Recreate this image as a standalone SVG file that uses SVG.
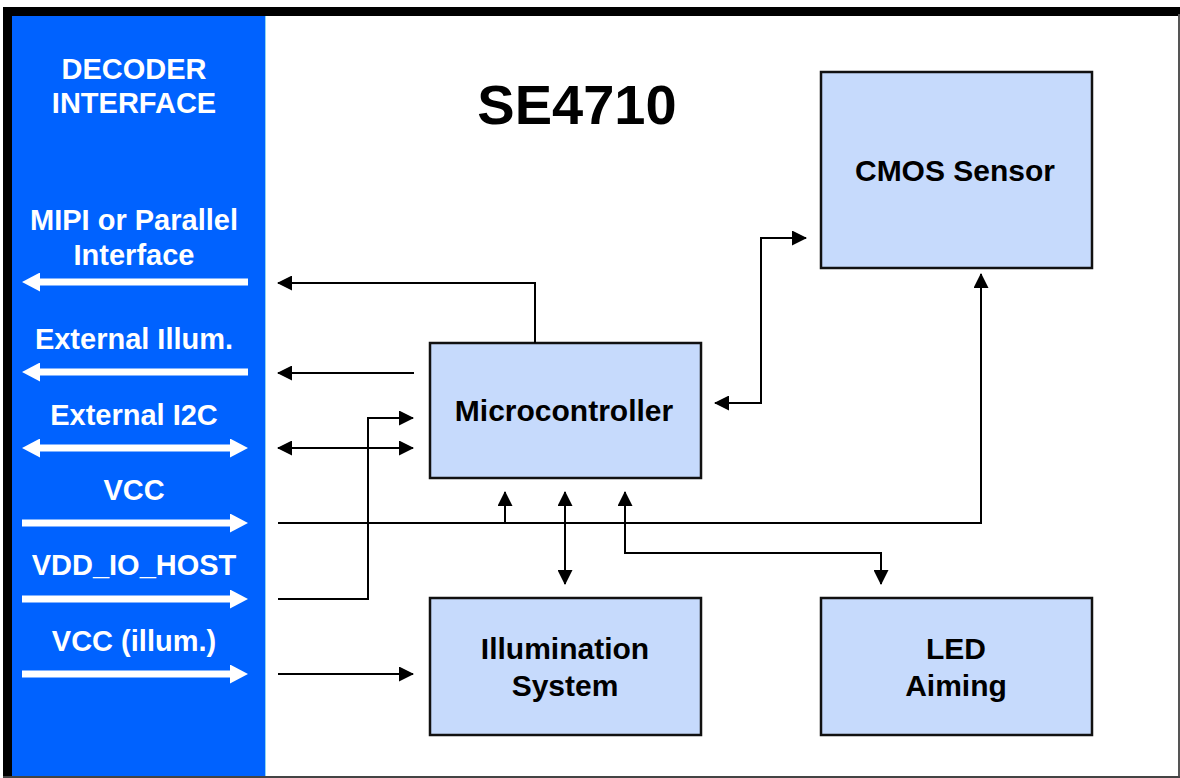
<svg xmlns="http://www.w3.org/2000/svg" width="1180" height="778" viewBox="0 0 1180 778">
<defs>
<style>
.lbl{font-family:"Liberation Sans",Arial,sans-serif;font-weight:bold;font-size:29px;fill:#fff;text-anchor:middle}
.txt{font-family:"Liberation Sans",Arial,sans-serif;font-weight:bold;font-size:30px;fill:#000;text-anchor:middle}
.box{fill:#C6DAFC;stroke:#111;stroke-width:2.5}
.wa{fill:none;stroke:#fff;stroke-width:7}
.ba{fill:none;stroke:#000;stroke-width:2}
</style>
<marker id="wh" markerUnits="userSpaceOnUse" markerWidth="18" markerHeight="19" refX="2" refY="9.5" orient="auto-start-reverse" viewBox="0 0 18 19">
<path d="M0,0 L18,9.5 L0,19 z" fill="#fff"/>
</marker>
<marker id="bh" markerUnits="userSpaceOnUse" markerWidth="15" markerHeight="15" refX="14" refY="7.5" orient="auto-start-reverse" viewBox="0 0 15 15">
<path d="M0,0 L15,7.5 L0,15 z" fill="#000"/>
</marker>
</defs>
<rect x="0" y="0" width="1180" height="778" fill="#fff"/>
<g id="frame">
<rect x="3" y="7" width="1177" height="9" fill="#000"/>
<rect x="3" y="7" width="9" height="771" fill="#000"/>
<rect x="1178" y="14" width="2" height="764" fill="#555"/>
<rect x="3" y="776" width="1177" height="2" fill="#444"/>
</g>
<g id="decoder-interface">
<rect x="12" y="16" width="253" height="760" fill="#0062FF"/>
<line x1="265.5" y1="16" x2="265.5" y2="776" stroke="#8fd6ee" stroke-width="1"/>
<text class="lbl" x="134" y="79">DECODER</text>
<text class="lbl" x="134" y="113">INTERFACE</text>
<text class="lbl" x="134" y="230">MIPI or Parallel</text>
<text class="lbl" x="134" y="265">Interface</text>
<text class="lbl" x="134" y="349">External Illum.</text>
<text class="lbl" x="134" y="425">External I2C</text>
<text class="lbl" x="134" y="500">VCC</text>
<text class="lbl" x="134" y="575">VDD_IO_HOST</text>
<text class="lbl" x="134" y="651">VCC (illum.)</text>
<path class="wa" d="M248,282 H38" marker-end="url(#wh)"/>
<path class="wa" d="M248,372 H38" marker-end="url(#wh)"/>
<path class="wa" d="M38,448 H232" marker-start="url(#wh)" marker-end="url(#wh)"/>
<path class="wa" d="M22,523 H232" marker-end="url(#wh)"/>
<path class="wa" d="M22,599 H232" marker-end="url(#wh)"/>
<path class="wa" d="M22,674 H232" marker-end="url(#wh)"/>
</g>
<text id="title" x="577" y="124" font-family="Liberation Sans, Arial, sans-serif" font-weight="bold" font-size="56" text-anchor="middle">SE4710</text>
<g id="cmos-sensor">
<rect class="box" x="821" y="72" width="271" height="196"/>
<text class="txt" x="955" y="181">CMOS Sensor</text>
</g>
<g id="microcontroller">
<rect class="box" x="430" y="343" width="271" height="135"/>
<text class="txt" x="564" y="421">Microcontroller</text>
</g>
<g id="illumination-system">
<rect class="box" x="430" y="598" width="271" height="137"/>
<text class="txt" x="565" y="659">Illumination</text>
<text class="txt" x="565" y="696">System</text>
</g>
<g id="led-aiming">
<rect class="box" x="821" y="598" width="271" height="137"/>
<text class="txt" x="956" y="659">LED</text>
<text class="txt" x="956" y="696">Aiming</text>
</g>
<g id="connectors">
<path class="ba" d="M535,343 V283 H278" marker-end="url(#bh)"/>
<path class="ba" d="M414,373 H278" marker-end="url(#bh)"/>
<path class="ba" d="M278,448 H413" marker-start="url(#bh)" marker-end="url(#bh)"/>
<path class="ba" d="M278,599 H368 V418 H413" marker-end="url(#bh)"/>
<path class="ba" d="M278,523 H981 V274" marker-end="url(#bh)"/>
<path class="ba" d="M505,523 V492" marker-end="url(#bh)"/>
<path class="ba" d="M278,674 H413" marker-end="url(#bh)"/>
<path class="ba" d="M565,492 V584" marker-start="url(#bh)" marker-end="url(#bh)"/>
<path class="ba" d="M625,492 V553 H881 V584" marker-start="url(#bh)" marker-end="url(#bh)"/>
<path class="ba" d="M715,403 H761 V238 H806" marker-start="url(#bh)" marker-end="url(#bh)"/>
</g>
</svg>
